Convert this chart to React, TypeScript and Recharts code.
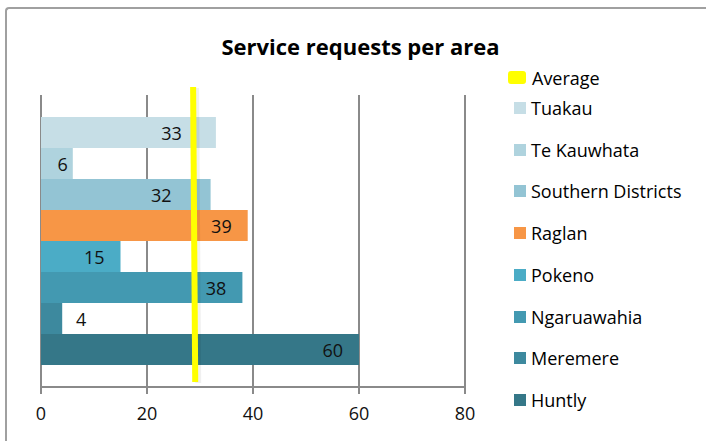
import React from "react";
import {
  Bar,
  BarChart,
  CartesianGrid,
  ReferenceArea,
  XAxis,
  YAxis,
} from "recharts";

// areas, top to bottom as drawn
const areas = [
  "Tuakau",
  "Te Kauwhata",
  "Southern Districts",
  "Raglan",
  "Pokeno",
  "Ngaruawahia",
  "Meremere",
  "Huntly",
];
const requests = [33, 6, 32, 39, 15, 38, 4, 60];
const colors = [
  "#c6dee6",
  "#afd3de",
  "#93c4d4",
  "#f79646",
  "#4bacc6",
  "#4399b1",
  "#3d899e",
  "#357788",
];
const xTicks = [0, 20, 40, 60, 80];

// the "Average" line: x at its top and at its bottom
const averageX = [28.7, 29.1];

const FONT = "'Open Sans', sans-serif";

// one category holding every area as its own series
const row: Record<string, number | string> = { name: "areas" };
areas.forEach((a, i) => {
  row[a] = requests[i];
});
const data = [row];

// label right edge relative to bar end (hand placed in the original)
const labelShift: Record<string, number> = {
  Tuakau: -34,
  "Te Kauwhata": -5,
  "Southern Districts": -39,
  Meremere: 24,
};

function makeLabel(area: string) {
  return (p: any) => {
    const { x, y, width, height, value } = p;
    const shift = labelShift[area] ?? -16;
    return (
      <text
        x={Number(x) + Number(width) + shift}
        y={Number(y) + Number(height) / 2}
        textAnchor="end"
        dominantBaseline="central"
        fontFamily={FONT}
        fontSize={18}
        fill="#111"
      >
        {value}
      </text>
    );
  };
}

// slanted average line drawn along the diagonal of the reference area
function AverageLine(p: any) {
  const { x, y, width, height } = p;
  const x1 = Number(x);
  const x2 = Number(x) + Number(width);
  const y1 = Number(y) - 8; // pokes above the plot a little
  const y2 = Number(y) + Number(height) - 5;
  return (
    <g>
      <line x1={x1 + 3} y1={y1 + 1} x2={x2 + 3} y2={y2 + 1} stroke="#000" strokeOpacity={0.06} strokeWidth={6} />
      <line x1={x1} y1={y1} x2={x2} y2={y2} stroke="#ffff00" strokeWidth={6} />
    </g>
  );
}

export default function App() {
  return (
    <div
      style={{
        position: "fixed",
        left: 0,
        top: 0,
        width: 706,
        height: 441,
        overflow: "hidden",
        background: "#fff",
        fontFamily: FONT,
      }}
    >
      <div
        style={{
          position: "absolute",
          left: 5,
          top: 7,
          width: 720,
          height: 460,
          boxSizing: "border-box",
          borderTop: "2px solid #a0a0a0",
          borderLeft: "2px solid #a0a0a0",
          borderTopLeftRadius: 4,
        }}
      />
      <div
        style={{
          position: "absolute",
          left: 0,
          width: 721,
          top: 31,
          textAlign: "center",
          fontWeight: 700,
          fontSize: 22,
          color: "#000",
          lineHeight: "30px",
        }}
      >
        Service requests per area
      </div>

      <div style={{ position: "absolute", left: 0, top: 0 }}>
        <BarChart
          width={706}
          height={441}
          data={data}
          layout="vertical"
          margin={{ top: 95, right: 241, bottom: 0, left: 41 }}
          barCategoryGap={22}
          barGap={0}
        >
          <CartesianGrid
            horizontal={false}
            stroke="#8a8a8a"
            strokeWidth={2}
          />
          <XAxis
            type="number"
            domain={[0, 80]}
            ticks={xTicks}
            interval={0}
            height={54}
            stroke="#8a8a8a"
            strokeWidth={2}
            tickSize={7}
            tickMargin={13}
            tick={{ fill: "#111", fontSize: 18, fontFamily: FONT }}
          />
          <YAxis type="category" dataKey="name" hide width={0} />
          {areas.map((a, i) => (
            <Bar
              key={a}
              dataKey={a}
              fill={colors[i]}
              isAnimationActive={false}
              label={makeLabel(a)}
            />
          ))}
          <ReferenceArea
            x1={averageX[0]}
            x2={averageX[1]}
            ifOverflow="visible"
            shape={AverageLine}
            {...({ zIndex: 450 } as any)}
          />
        </BarChart>
      </div>

      <div style={{ position: "absolute", left: 508, top: 66, fontSize: 18 }}>
        <div
          style={{
            position: "absolute",
            left: 0,
            top: 5,
            width: 18,
            height: 13,
            borderRadius: 3,
            background: "#ffff00",
          }}
        />
        <div style={{ position: "absolute", left: 24, top: 0, lineHeight: "24px", whiteSpace: "nowrap" }}>
          Average
        </div>
      </div>
      {areas.map((a, i) => (
        <div
          key={a}
          style={{
            position: "absolute",
            left: 514,
            top: 96 + i * 41.7,
            fontSize: 18,
            whiteSpace: "nowrap",
          }}
        >
          <div
            style={{
              position: "absolute",
              left: 0,
              top: 6,
              width: 12,
              height: 12,
              background: colors[i],
            }}
          />
          <div style={{ position: "absolute", left: 17, top: 0, lineHeight: "24px" }}>
            {a}
          </div>
        </div>
      ))}
    </div>
  );
}
